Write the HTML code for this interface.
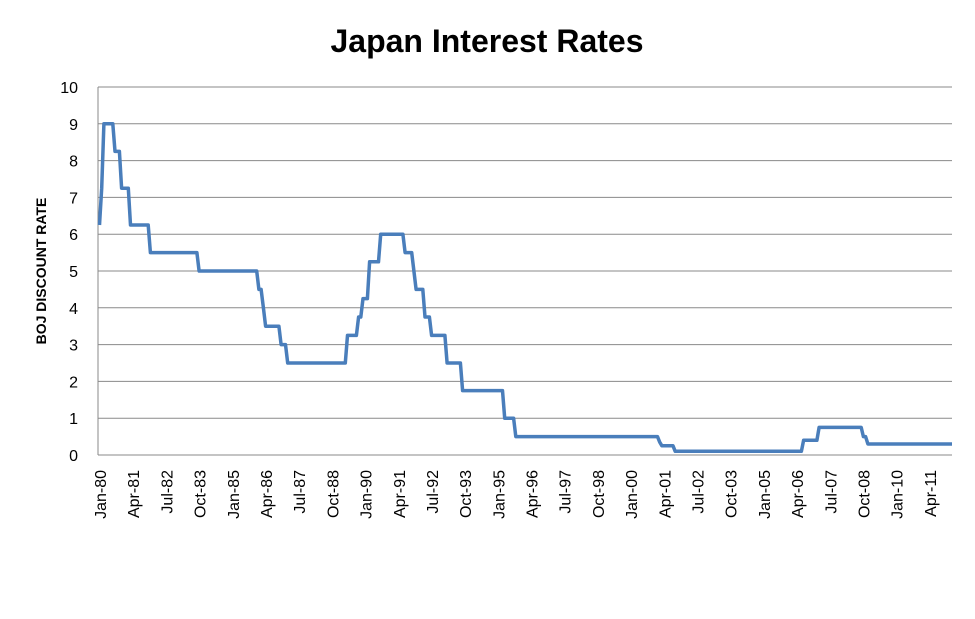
<!DOCTYPE html>
<html><head><style>body{margin:0;background:#fff}</style></head><body>
<svg id="s" width="975" height="614" xmlns="http://www.w3.org/2000/svg" font-family="Liberation Sans, sans-serif">
<text x="487" y="52" text-anchor="middle" font-size="32" font-weight="bold">Japan Interest Rates</text>
<text transform="translate(46,271) rotate(-90)" text-anchor="middle" font-size="14" font-weight="bold">BOJ DISCOUNT RATE</text>
<g id="grid"></g>
<g id="lab" font-size="16"></g>
<polyline id="ln" fill="none" stroke="#4a7ebb" stroke-width="3.5" stroke-linejoin="round"/>
</svg>
<script>
var ns="http://www.w3.org/2000/svg",g=document.getElementById('grid'),lab=document.getElementById('lab');
function el(t,a,p,txt){var e=document.createElementNS(ns,t);for(var k in a)e.setAttribute(k,a[k]);if(txt!=null)e.textContent=txt;p.appendChild(e);return e;}
var y0=455,dy=36.8,x0=98,x1=952;
for(var i=0;i<=10;i++){var y=y0-i*dy;el('line',{x1:x0,x2:x1,y1:y,y2:y,stroke:'#8a8a8a','stroke-width':1},g);
el('text',{x:78,y:y+6,'text-anchor':'end'},lab,String(i));}
el('line',{x1:x0,x2:x0,y1:87,y2:455,stroke:'#888'},g);
var mons=['Jan','Apr','Jul','Oct'],px=2.213;
for(var k=0;k<26;k++){var m=k*15;var yr=1980+Math.floor(m/12);var mo=m%12;
var s=mons[mo/3]+'-'+String(yr%100).padStart(2,'0');var x=x0+m*px+8;
el('text',{transform:'translate('+x+',470) rotate(-90)','text-anchor':'end','font-size':'16'},lab,s);}
var ch=[[0,6.25],[1,7.25],[2,9],[7,8.25],[10,7.25],[14,6.25],[23,5.5],[45,5],[72,4.5],[74,4],[75,3.5],[82,3],[85,2.5],[112,3.25],[117,3.75],[119,4.25],[122,5.25],[127,6],[138,5.5],[142,5],[143,4.5],[147,3.75],[150,3.25],[157,2.5],[164,1.75],[183,1],[188,0.5],[253,0.35],[254,0.25],[260,0.1],[318,0.4],[325,0.75],[345,0.5],[347,0.3]];
var pts=[],v=6.25,c=0,xs=x0+1.5,pxd=(x1-xs)/385;
for(var m=0;m<=385;m++){if(c<ch.length&&ch[c][0]==m){v=ch[c][1];c++;}pts.push((xs+m*pxd).toFixed(1)+','+(y0-v*dy).toFixed(1));}
document.getElementById('ln').setAttribute('points',pts.join(' '));
</script>
</body></html>
